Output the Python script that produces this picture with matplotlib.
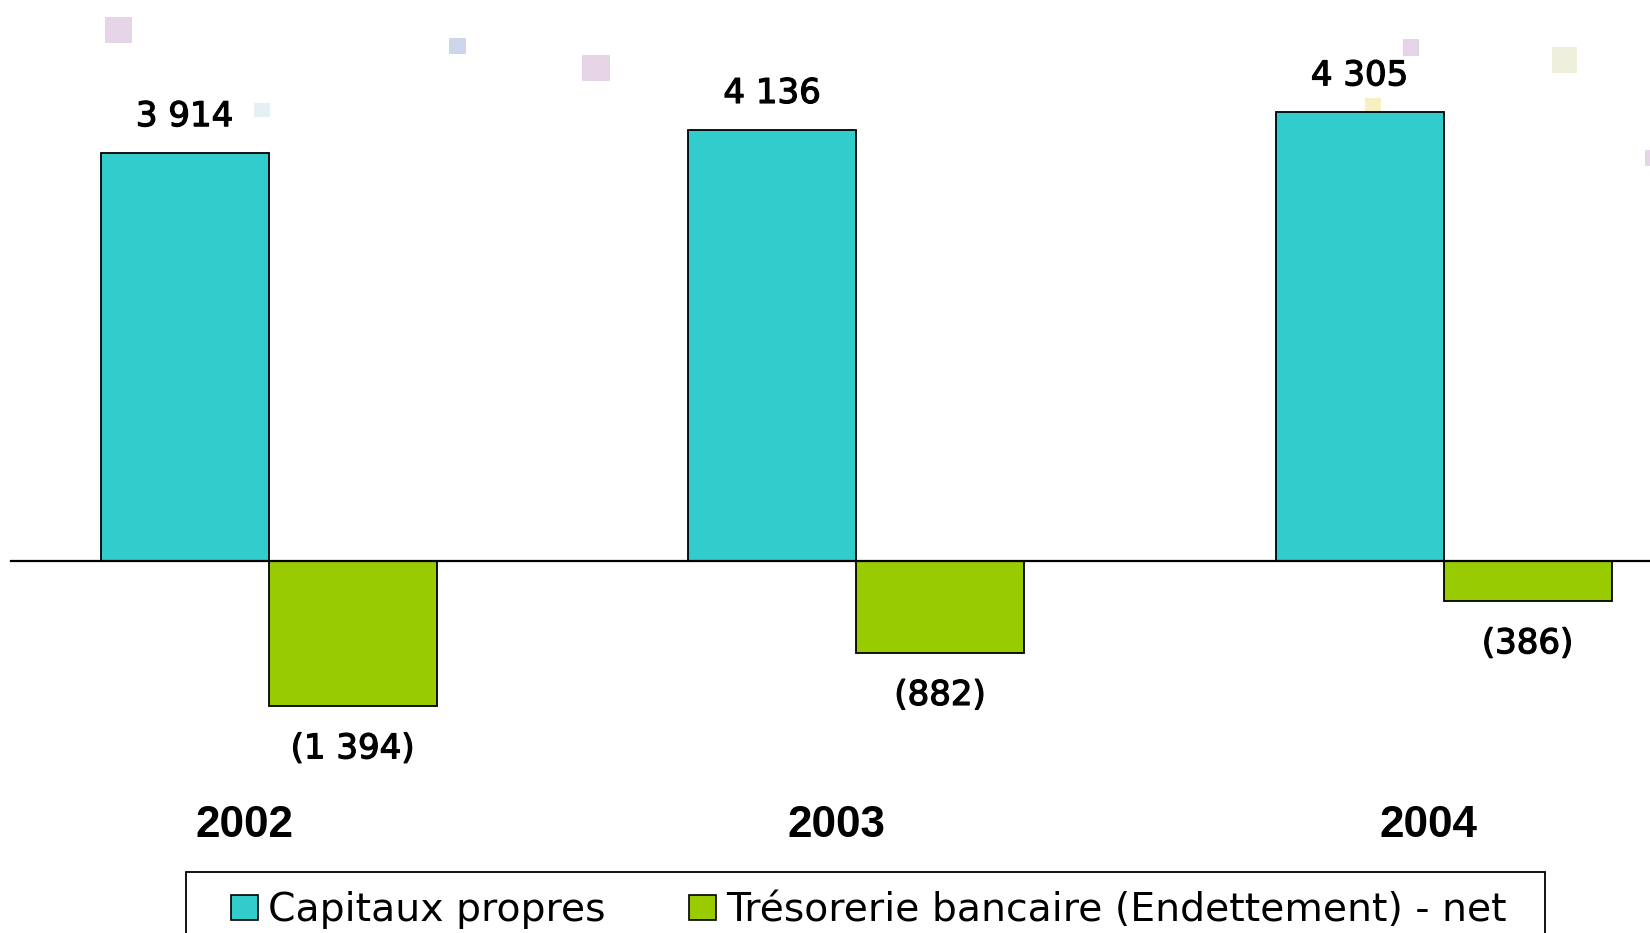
import matplotlib
matplotlib.use("Agg")
import matplotlib.pyplot as plt
from matplotlib.patches import Rectangle, Patch
import matplotlib.patheffects as pe

# ---- data ----
years = ["2002", "2003", "2004"]
capitaux = [3914, 4136, 4305]
tresorerie = [-1394, -882, -386]
series_names = ["Capitaux propres", "Trésorerie bancaire (Endettement) - net"]
colors = ["#33CCCC", "#99CC00"]

# layout: horizontal offset of each year label from its bar group (pixels)
year_dx_px = [-24, -19.5, -15]

# decorative confetti squares of the slide background (figure pixels: x0, y0_top, x1, y1_bottom, colour)
deco = [
    (105, 17, 132, 43, "#e6d5e6"),
    (449, 38, 466, 54, "#cdd5ea"),
    (582, 55, 610, 81, "#e6d5e6"),
    (254, 103, 270, 117, "#e3f0f6"),
    (1403, 39, 1419, 56, "#e6d5e6"),
    (1552, 47, 1577, 73, "#eef0dd"),
    (1365, 98, 1381, 112, "#f8f0c0"),
    (1645, 150, 1650, 166, "#e6d5e6"),
]

def fmt(v):
    s = f"{abs(v):,}".replace(",", " ")
    return f"({s})" if v < 0 else s

W, H = 1650, 933
fig = plt.figure(figsize=(W / 100, H / 100), dpi=100)
fig.patch.set_facecolor("white")

for x0, y0, x1, y1, c in deco:
    fig.add_artist(Rectangle((x0 / W, 1 - y1 / H), (x1 - x0) / W, (y1 - y0) / H,
                             transform=fig.transFigure, color=c, lw=0, zorder=0))

ax = fig.add_axes([0, 0, 1, 1])
ax.set_facecolor("none")
ax.axis("off")

px_per_group = 587.5
x_origin = 268.5
ax.set_xlim(-x_origin / px_per_group, (W - x_origin) / px_per_group)
k = 0.1043
y0px = 561
ax.set_ylim(-(H - y0px) / k, y0px / k)

bw = 168 / px_per_group
xs = list(range(len(years)))
b1 = ax.bar([x - bw / 2 for x in xs], capitaux, width=bw, color=colors[0],
            edgecolor="black", linewidth=1.3, zorder=2)
b2 = ax.bar([x + bw / 2 for x in xs], tresorerie, width=bw, color=colors[1],
            edgecolor="black", linewidth=1.3, zorder=2)

ax.axhline(0, xmin=10.5 / W, xmax=1, color="black", lw=1.6, zorder=3)

val_font = dict(family="DejaVu Sans", fontsize=24.5,
                path_effects=[pe.withStroke(linewidth=0.9, foreground="black")])
for x, v in zip(xs, capitaux):
    ax.annotate(fmt(v), xy=(x - bw / 2, v), xytext=(0, 19.2), textcoords="offset points",
                ha="center", va="baseline", **val_font)
for x, v in zip(xs, tresorerie):
    ax.annotate(fmt(v), xy=(x + bw / 2, v), xytext=(0, -37.4), textcoords="offset points",
                ha="center", va="baseline", **val_font)

for x, y, dx in zip(xs, years, year_dx_px):
    ax.annotate(y, xy=(x, 0), xytext=(dx * 0.72, -198.5), textcoords="offset points",
                ha="center", va="baseline", family=["Liberation Sans", "DejaVu Sans"],
                fontweight="bold", fontsize=31.8)

# legend
handles = [Patch(facecolor=colors[0], edgecolor="black", linewidth=1.2),
           Patch(facecolor=colors[1], edgecolor="black", linewidth=1.2)]
leg = fig.legend(handles, series_names, loc="center left", ncol=2, mode="expand",
                 bbox_to_anchor=(230.7 / W, (H - 910) / H, (1507 - 230.7) / W, 0),
                 frameon=False, borderpad=0, borderaxespad=0,
                 handlelength=0.68, handleheight=0.6, handletextpad=0.27,
                 prop=dict(family="DejaVu Sans", size=28.4))
fig.add_artist(Rectangle((186 / W, -0.02), (1545 - 186) / W, (H - 871.7) / H + 0.02,
                         transform=fig.transFigure, fill=False, ec="black", lw=1.3, zorder=5))

fig.savefig("out.png", dpi=100, facecolor="white")
